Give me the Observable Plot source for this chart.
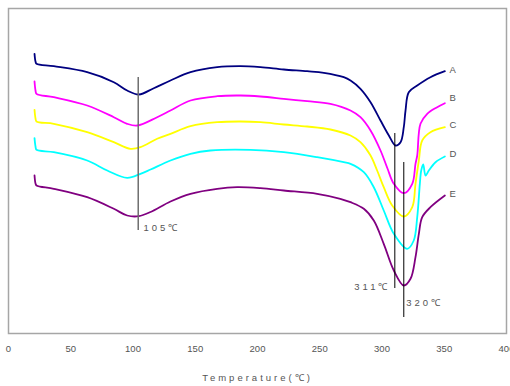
<!DOCTYPE html>
<html><head><meta charset="utf-8">
<script src="https://cdn.jsdelivr.net/npm/d3@7"></script>
<script src="https://cdn.jsdelivr.net/npm/@observablehq/plot@0.6"></script>
<style>body{margin:0;background:#fff}</style>
</head><body><div id="chart"></div>
<script>
// Temperature (°C) and DSC signal (arbitrary units)
const tA = [20.9,21.7,22.5,36.4,63.2,84.6,95.3,104.7,116.7,130.1,146.2,167.6,186.3,202.4,221.1,239.9,253.3,269.3,274.7,282.7,290.8,298.8,305.5,310.8,314.9,317.5,318.9,321.5,328.3,338.9,350.5];
const vA = [279.7,272,269.7,267.3,261.3,251.3,243,239,245.3,253,261.3,266.3,267.3,266.3,264,262.3,260.7,256.3,253,244.7,231.3,213,198,188,191.3,206.3,223,241.3,248,256.3,262.3];

const tB = [20.9,21.7,22.5,36.4,63.2,84.6,95.3,103.4,119.4,130.1,146.2,167.6,186.3,202.4,221.1,239.9,258.6,274.7,282.7,290.8,298.8,304.4,309.5,317.5,324.3,326.9,328.3,330.9,336.3,344.3,350.5];
const vB = [252,243,239.7,236.3,228,216.3,209.7,208,216.3,223,233,237.3,238,237,234.7,232.3,229.7,223,216.3,203,183,165,149.7,140.3,149.7,169.7,178,209.7,219.7,226.3,230.3];

const tC = [20.9,21.7,22.5,36.4,63.2,84.6,98,106,119.4,130.1,146.2,167.6,186.3,202.4,221.1,239.9,258.6,274.7,282.7,290.8,296.1,301.4,308.2,317.5,324.3,326.9,329.6,332.3,338.9,350.5];
const vC = [223.7,215,212,209.7,201.3,191.3,184.7,186.3,194.7,199.7,207.3,211.3,212,211.3,209,207,204,198,191.3,178,163,146.3,128,117,126.3,149.7,173,193,201.3,206.3];

const tD = [20.9,21.7,22.5,36.4,63.2,79.3,95.3,106,114.1,130.1,146.2,162.2,194.4,221.1,247.9,269.3,274.7,285.4,293.4,301.4,309.5,320.2,325.5,328.3,330.4,331.5,333.1,335,337.6,343,350.5];
const vD = [195.3,187,183.7,181.3,173,163,155.7,159.7,164,173,179.7,183,183.7,181.3,176.3,171.3,169.7,161.3,146.3,123,99.7,84.7,93,116.3,149.7,163,169,158,163,171.3,177];

const tE = [20.9,21.7,22.5,36.4,63.2,84.6,95.3,104.7,114.1,130.1,146.2,167.6,183.7,202.4,221.1,247.9,266.5,274.7,285.4,293.4,301.4,309.5,317.5,322.9,326.9,329.6,332.3,338.9,350.5];
const vE = [158,150,148,144.7,136.3,124.7,118,117.3,121.5,132,139.7,144.7,146.3,145.3,143,139.7,134.7,131.3,124.7,113,89.7,63,48,54.7,76.3,99.7,116.3,126.3,138];

const seriesNames = ["A","B","C","D","E"];
const seriesColors = ["#000080","#ff00ff","#ffff00","#00ffff","#800080"];
const seriesT = [tA,tB,tC,tD,tE];
const seriesV = [vA,vB,vC,vD,vE];
const labelT = 354.2;
const labelV = [264,236,209,180,140];

const xTicks = [0,50,100,150,200,250,300,350,400];

// marker lines for peak temperatures
const peakText = ["105\u2103","311\u2103","320\u2103"];
const peakT = [104.2,310.3,317.5];
const peakTop = [256,200,171];
const peakBottom = [103,45,16];
const peakColor = ["#6e6e6e","#000000","#000000"];
const peakWidth = [1.5,1,1];
const peakLabelT = [108.4,306.8,319.4];
const peakLabelV = [105.3,47,30.3];
const peakAnchor = ["start","end","start"];

const rows = seriesNames.flatMap((s,k) => seriesT[k].map((t,i) => ({series:s, t, v:seriesV[k][i]})));
const ends = seriesNames.map((s,k) => ({series:s, t:labelT, v:labelV[k]}));
const peaks = peakT.map((t,i) => ({t, v1:peakTop[i], v2:peakBottom[i], color:peakColor[i], w:peakWidth[i],
  text:peakText[i], lt:peakLabelT[i], lv:peakLabelV[i], anchor:peakAnchor[i]}));

const font = "'Liberation Sans Narrow','Liberation Sans',Arial,sans-serif";

const plot = Plot.plot({
  width:510, height:386,
  marginTop:8, marginBottom:53, marginLeft:8, marginRight:4,
  x:{domain:[0,400]},
  y:{domain:[0,325], axis:null},
  color:{domain:seriesNames, range:seriesColors},
  style:{fontFamily:font, fontSize:"9.5px", color:"#555", background:"#fff", overflow:"visible"},
  marks:[
    Plot.frame({stroke:"#a6a6a6", strokeWidth:1.5}),
    Plot.axisX({ticks:xTicks, tickSize:0, tickPadding:12, label:null, fill:"#555", fontSize:9.5}),
    Plot.line(rows, {x:"t", y:"v", z:"series", stroke:"series", strokeWidth:1.8, curve:"catmull-rom"}),
    Plot.ruleX(peaks, {x:"t", y1:"v1", y2:"v2", stroke:d=>d.color, strokeWidth:d=>d.w}),
    Plot.text(peaks.filter(d=>d.anchor==="start"), {x:"lt", y:"lv", text:"text", textAnchor:"start", fill:"#555", fontSize:9.5}),
    Plot.text(peaks.filter(d=>d.anchor==="end"), {x:"lt", y:"lv", text:"text", textAnchor:"end", fill:"#555", fontSize:9.5}),
    Plot.text(ends, {x:"t", y:"v", text:"series", textAnchor:"start", fill:"#555", fontSize:9.5}),
    Plot.text(["Temperature(\u2103)"], {frameAnchor:"bottom", dy:47, text:d=>d, fill:"#555", fontSize:9.5})
  ]
});
// letter spacing for annotation texts
d3.select(plot).selectAll("text").filter(function(){ return this.textContent.includes("\u2103"); })
  .attr("letter-spacing","3px");
document.getElementById("chart").appendChild(plot);
</script></body></html>
